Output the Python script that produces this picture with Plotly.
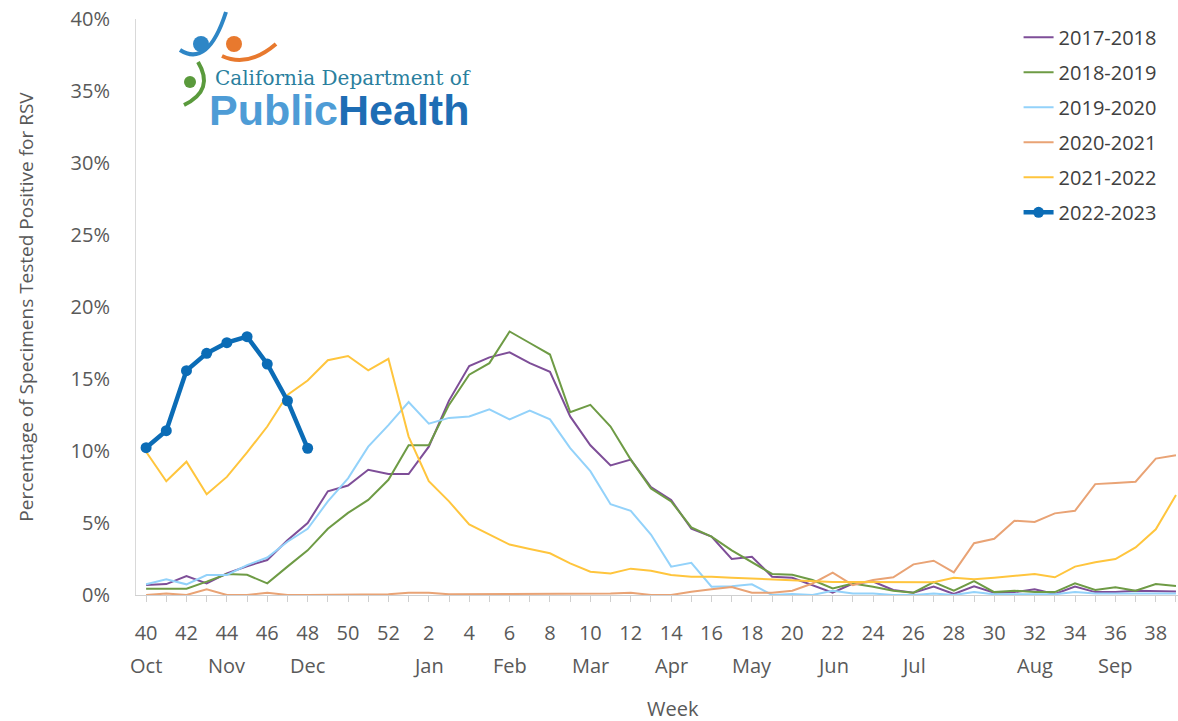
import plotly.graph_objects as go

weeks = list(range(40, 53)) + list(range(1, 40))
month_of_week = {40: "Oct", 44: "Nov", 48: "Dec", 2: "Jan", 6: "Feb", 10: "Mar", 14: "Apr",
                 18: "May", 22: "Jun", 26: "Jul", 32: "Aug", 36: "Sep"}

s2017_2018 = [0.69, 0.76, 1.32, 0.81, 1.5, 2.0, 2.43, 3.8, 5.0, 7.2,
              7.6, 8.7, 8.4, 8.4, 10.3, 13.5, 15.9, 16.5, 16.85, 16.1,
              15.5, 12.4, 10.4, 9.0, 9.4, 7.5, 6.6, 4.6, 4.05, 2.5,
              2.66, 1.27, 1.2, 0.7, 0.16, 0.8, 0.93, 0.35, 0.16, 0.58,
              0.07, 0.6, 0.16, 0.2, 0.4, 0.07, 0.58, 0.2, 0.2, 0.3, 0.3, 0.25]
s2018_2019 = [0.44, 0.44, 0.44, 0.93, 1.46, 1.4, 0.81, 1.97, 3.1, 4.6,
              5.7, 6.6, 8.0, 10.4, 10.4, 13.2, 15.3, 16.1, 18.3, 17.5,
              16.7, 12.7, 13.2, 11.7, 9.4, 7.4, 6.5, 4.7, 4.05, 3.1,
              2.3, 1.46, 1.4, 1.04, 0.46, 0.8, 0.58, 0.3, 0.16, 0.9,
              0.3, 0.97, 0.2, 0.3, 0.2, 0.2, 0.81, 0.35, 0.53, 0.3, 0.76, 0.63]
s2019_2020 = [0.74, 1.09, 0.74, 1.39, 1.39, 2.08, 2.6, 3.7, 4.6, 6.5,
              8.1, 10.3, 11.8, 13.4, 11.9, 12.3, 12.4, 12.9, 12.2, 12.8,
              12.2, 10.2, 8.6, 6.3, 5.85, 4.2, 1.97, 2.24, 0.58, 0.6,
              0.74, 0.0, 0.07, 0.0, 0.3, 0.1, 0.1, 0.0, 0.0, 0.1,
              0.0, 0.2, 0.05, 0.05, 0.05, 0.05, 0.2, 0.1, 0.1, 0.1, 0.1, 0.1]
s2020_2021 = [0.0, 0.1, 0.0, 0.4, 0.0, 0.0, 0.16, 0.0, 0.0, 0.0,
              0.0, 0.0, 0.05, 0.16, 0.16, 0.05, 0.05, 0.05, 0.05, 0.05,
              0.05, 0.05, 0.05, 0.1, 0.16, 0.0, 0.0, 0.23, 0.4, 0.55,
              0.16, 0.16, 0.3, 0.8, 1.55, 0.69, 1.04, 1.23, 2.13, 2.38,
              1.57, 3.6, 3.9, 5.16, 5.07, 5.67, 5.85, 7.7, 7.78, 7.87, 9.47, 9.7]
s2021_2022 = [9.95, 7.9, 9.26, 7.0, 8.2, 9.9, 11.7, 13.9, 14.9, 16.3,
              16.6, 15.6, 16.4, 11.0, 7.9, 6.5, 4.9, 4.2, 3.5, 3.2,
              2.9, 2.2, 1.62, 1.5, 1.83, 1.69, 1.39, 1.27, 1.27, 1.2,
              1.13, 1.06, 1.04, 0.95, 0.9, 0.9, 0.9, 0.9, 0.88, 0.88,
              1.2, 1.09, 1.2, 1.34, 1.46, 1.23, 1.97, 2.27, 2.5, 3.3, 4.56, 6.94]
s2022_2023 = [10.23, 11.41, 15.58, 16.78, 17.52, 17.94, 16.04, 13.49, 10.19]

series = [
    ("2017-2018", s2017_2018, "#7E4E98"),
    ("2018-2019", s2018_2019, "#6E9B45"),
    ("2019-2020", s2019_2020, "#93D2FA"),
    ("2020-2021", s2020_2021, "#E9A375"),
    ("2021-2022", s2021_2022, "#FFC53D"),
]

x_idx = list(range(len(weeks)))
tick_text = [str(w) if i % 2 == 0 else "" for i, w in enumerate(weeks)]

FONT = "Open Sans"
GRAY = "#595959"

W, H = 1178, 721
# plot-area geometry in pixels
L, R, T, B = 136, 1178, 19, 595


def px(x):
    return (x - L) / (R - L)


def py(y):
    return (B - y) / (B - T)


fig = go.Figure()
for i, (name, vals, col) in enumerate(series):
    fig.add_trace(go.Scatter(x=x_idx, y=vals, mode="lines", name=name,
                             line=dict(color=col, width=2), legendgroup=str(i)))
fig.add_trace(go.Scatter(x=x_idx[:len(s2022_2023)], y=s2022_2023, mode="lines+markers",
                         name="2022-2023", legendgroup="5",
                         line=dict(color="#0B6CB6", width=4.5),
                         marker=dict(color="#0B6CB6", size=11)))

fig.update_layout(
    width=W, height=H,
    margin=dict(l=L, r=W - R, t=T, b=H - B, autoexpand=False),
    paper_bgcolor="white", plot_bgcolor="white",
    font=dict(family=FONT, color=GRAY, size=20),
    showlegend=True,
    legend=dict(x=0.847, y=1.002, xanchor="left", yanchor="top",
                font=dict(size=20, color="#404040"), tracegroupgap=6,
                bgcolor="rgba(0,0,0,0)"),
    xaxis=dict(range=[-0.5, 51.1], tickmode="array", tickvals=x_idx, ticktext=tick_text,
               ticks="outside", ticklen=6, tickcolor="#D0D0D0", showline=True,
               linecolor="#D0D0D0", linewidth=1, showgrid=False, zeroline=False,
               tickangle=0, tickfont=dict(size=20, color=GRAY), automargin=False,
               ticklabelstandoff=14, ticklabeloverflow="allow"),
    yaxis=dict(range=[0, 40], tickvals=[0, 5, 10, 15, 20, 25, 30, 35, 40],
               ticktext=[f"{v}%" for v in [0, 5, 10, 15, 20, 25, 30, 35, 40]],
               showline=True, linecolor="#D9D9D9", showgrid=False, zeroline=False,
               ticks="", ticklabelstandoff=21, tickfont=dict(size=20, color=GRAY),
               automargin=False, ticklabeloverflow="allow",
               title=dict(text="Percentage of Specimens Tested Positive for RSV",
                          font=dict(size=19, color=GRAY), standoff=31)),
)

# Month labels under the week numbers
for i, w in enumerate(weeks):
    if w in month_of_week:
        fig.add_annotation(x=i, xref="x", y=py(665), yref="paper", text=month_of_week[w],
                           showarrow=False, xanchor="center", yanchor="middle",
                           font=dict(size=20, color=GRAY))
fig.add_annotation(x=px(673), xref="paper", y=py(708), yref="paper", text="Week",
                   showarrow=False, xanchor="center", yanchor="middle",
                   font=dict(size=20, color=GRAY))

# Logo (decorative)
shapes = []
for cx, cy, r, col in [(201, 44, 8, "#2E86C6"), (234, 44, 8, "#E8792E"), (190, 82, 6, "#5A9A3C")]:
    shapes.append(dict(type="circle", xref="paper", yref="paper",
                       x0=px(cx - r), x1=px(cx + r), y0=py(cy + r), y1=py(cy - r),
                       fillcolor=col, line=dict(width=0)))
shapes.append(dict(type="path", xref="paper", yref="paper",
                   path=f"M {px(180)},{py(50)} Q {px(208)},{py(68)} {px(226)},{py(12)}",
                   line=dict(color="#2E86C6", width=4)))
shapes.append(dict(type="path", xref="paper", yref="paper",
                   path=f"M {px(222)},{py(56)} Q {px(248)},{py(68)} {px(276)},{py(44)}",
                   line=dict(color="#E8792E", width=4)))
shapes.append(dict(type="path", xref="paper", yref="paper",
                   path=f"M {px(198)},{py(62)} Q {px(215)},{py(90)} {px(184)},{py(105)}",
                   line=dict(color="#5A9A3C", width=4)))
fig.update_layout(shapes=shapes)

fig.add_annotation(xref="paper", yref="paper", x=px(213), y=py(78), xanchor="left", yanchor="middle",
                   text="California Department of", showarrow=False,
                   font=dict(family="DejaVu Serif", size=20, color="#2A7F9E"))
fig.add_annotation(xref="paper", yref="paper", x=px(207), y=py(110), xanchor="left", yanchor="middle",
                   text="<b><span style='color:#4E9CD6'>Public</span>Health</b>", showarrow=False,
                   font=dict(family="Liberation Sans", size=43, color="#1E6DB4"))

fig.write_html("out.html", config={"displayModeBar": False},
               post_script="document.body.style.margin='0';document.body.style.overflow='hidden';")
